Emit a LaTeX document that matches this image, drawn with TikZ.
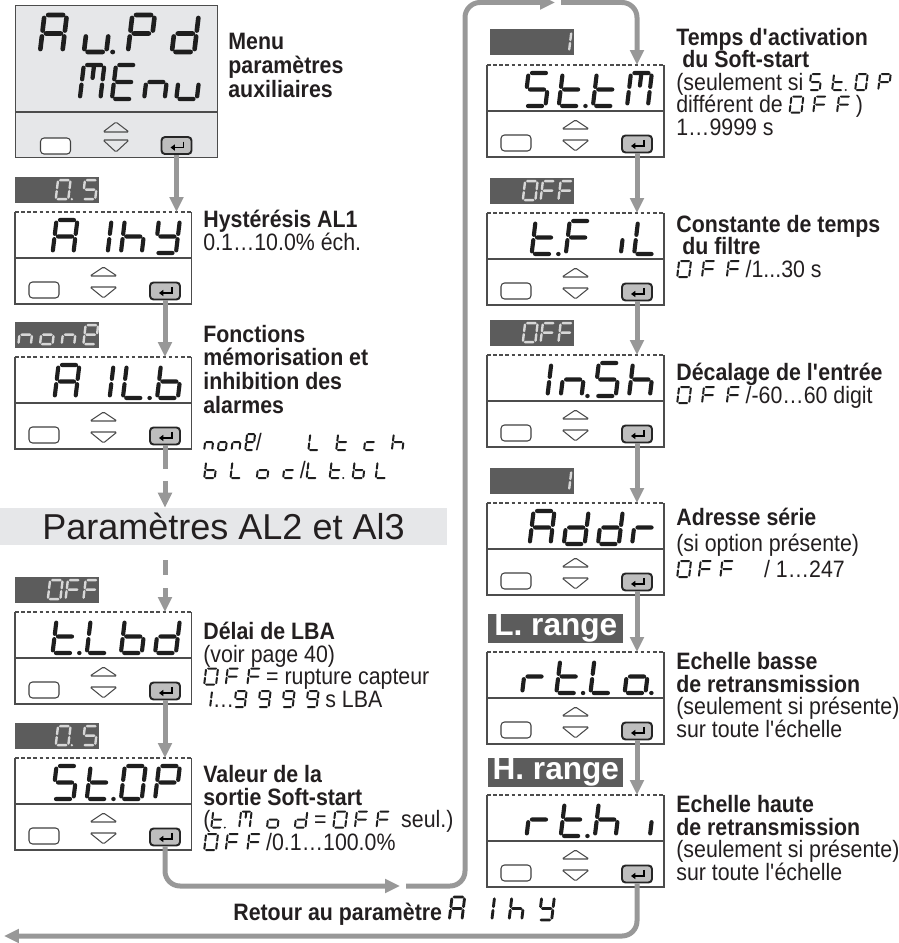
\documentclass[tikz,border=0pt]{standalone}
\usepackage{fontspec}
\setmainfont{Liberation Sans}[FakeStretch=0.9]
\newfontfamily\plainsans{Liberation Sans}
\usetikzlibrary{arrows.meta,calc,positioning}

\definecolor{lcdink}{RGB}{30,30,30}
\definecolor{lcdlight}{RGB}{215,215,215}
\definecolor{menubg}{RGB}{230,231,233}
\definecolor{flowgray}{RGB}{152,152,152}
\definecolor{valgray}{RGB}{92,92,92}
\definecolor{keygray}{RGB}{190,190,190}
\definecolor{textink}{RGB}{35,31,32}

% seven segment glyphs, one unit = glyph height
\newcommand\lcdxs{1}
\newcommand\lcdpitch{1.1}
\tikzset{
  lcd xs/.code={\renewcommand\lcdxs{#1}},
  lcd pitch/.code={\renewcommand\lcdpitch{#1}},
  lcdseg/.style={line cap=round, draw=lcdink},
  lcd light/.style={lcdseg/.style={line cap=round, draw=lcdlight}},
  seg a/.style={insert path={(0.09,1)--(0.46,1)}},
  seg b/.style={insert path={(0.55,0.92)--(0.55,0.58)}},
  seg c/.style={insert path={(0.55,0.42)--(0.55,0.08)}},
  seg d/.style={insert path={(0.09,0)--(0.46,0)}},
  seg e/.style={insert path={(0,0.08)--(0,0.42)}},
  seg f/.style={insert path={(0,0.58)--(0,0.92)}},
  seg g/.style={insert path={(0.09,0.5)--(0.46,0.5)}},
  seg m/.style={insert path={(0.275,0.92)--(0.275,0.62)}},
  seg p/.style={insert path={(0.7,0)--(0.71,0)}},
  glyph A/.style={seg a,seg b,seg c,seg e,seg f,seg g},
  glyph u/.style={seg c,seg d,seg e},
  glyph u*/.style={glyph u,seg p},
  glyph P/.style={seg a,seg b,seg e,seg f,seg g},
  glyph d/.style={seg b,seg c,seg d,seg e,seg g},
  glyph M/.style={seg a,seg b,seg c,seg e,seg f,seg m},
  glyph E/.style={seg a,seg d,seg e,seg f,seg g},
  glyph n/.style={seg c,seg e,seg g},
  glyph n*/.style={glyph n,seg p},
  glyph 1/.style={seg b,seg c},
  glyph h/.style={seg c,seg e,seg f,seg g},
  glyph y/.style={seg b,seg c,seg d,seg f,seg g},
  glyph L/.style={seg d,seg e,seg f},
  glyph L*/.style={glyph L,seg p},
  glyph b/.style={seg c,seg d,seg e,seg f,seg g},
  glyph t/.style={seg d,seg e,seg f,seg g},
  glyph t*/.style={glyph t,seg p},
  glyph S/.style={seg a,seg c,seg d,seg f,seg g},
  glyph 5/.style={glyph S},
  glyph O/.style={seg a,seg b,seg c,seg d,seg e,seg f},
  glyph 0*/.style={glyph O,seg p},
  glyph F/.style={seg a,seg e,seg f,seg g},
  glyph i/.style={seg c},
  glyph r/.style={seg e,seg g},
  glyph o/.style={seg c,seg d,seg e,seg g},
  glyph o*/.style={glyph o,seg p},
  glyph c/.style={seg d,seg e,seg g},
  glyph e/.style={seg a,seg b,seg d,seg e,seg f,seg g},
  glyph 9/.style={seg a,seg b,seg c,seg d,seg f,seg g},
}
\newcommand\lcd[3][]{\tikz[baseline=0pt,#1,x={(\lcdxs*#2*0.02cm,0pt)},y={(#2*0.0024cm,#2*0.02cm)}]{%
  \foreach \g [count=\i from 0] in {#3}{%
    \edef\lcdcmd{\noexpand\draw[lcdseg,line width=#2*0.0025cm,shift={(\i*\lcdpitch,0)},glyph \g];}\lcdcmd}}}
\newcommand\lcdin[2][]{\lcd[lcd xs=1.35,lcd pitch=1.0,#1]{16}{#2}}

% one parameter panel: name, x, y (top left), glyphs
\newcommand\dispanel[4]{%
  \node[panel] (#1) at (#2,#3) {};
  \draw[paneledge] (#1.north west) -- (#1.south west) -- (#1.south east) -- (#1.north east);
  \draw[paneledge, dash pattern=on 2pt off 1.5pt] (#1.north west) -- (#1.north east);
  \draw[paneledge] (#1.west) -- (#1.east);
  \node[anchor=base east, inner sep=0pt] (#1-lcd) at ($(#1.north east)+(-10,41)$) {\lcd[lcd xs=1.15,lcd pitch=0.9]{33}{#4}};
  \node[softkey] (#1-esc) at ($(#1.south west)+(29,-14)$) {};
  \draw[paneledge, rounded corners=0.8pt] ($(#1.south west)+(75,-28)$) -- ++(13.5,-9) -- ++(13.5,9) -- cycle
    ($(#1.south west)+(75,-17)$) -- ++(27,0) -- ++(-13.5,11) -- cycle;
  \node[enterkey] (#1-key) at ($(#1.south west)+(150,-13)$) {};
  \draw[line width=0.9pt, -{Triangle[length=2.5pt,width=3.5pt]}] ($(#1-key)+(7,-4)$) -- ++(0,6) -- ++(-13,0);
}

\begin{document}
\begin{tikzpicture}[x=0.02cm, y=-0.02cm,
  panel/.style={anchor=north west, minimum width=3.54cm, minimum height=1.84cm, inner sep=0pt, outer sep=0pt, fill=white},
  paneledge/.style={draw=black!70, line width=0.6pt},
  softkey/.style={draw=black!75, fill=white, rounded corners=2pt, minimum width=0.6cm, minimum height=0.32cm, inner sep=0pt, line width=0.6pt},
  enterkey/.style={draw=black!85, fill=keygray, rounded corners=2pt, minimum width=0.6cm, minimum height=0.34cm, inner sep=0pt, line width=1.1pt},
  valbox/.style={anchor=south west, fill=valgray, minimum height=0.52cm, text width=1.6cm, inner xsep=0.04cm, inner ysep=0pt},
  rangebox/.style={anchor=south west, fill=valgray, text=white, minimum width=2.7cm, minimum height=0.55cm, inner sep=0pt,
    font=\plainsans\bfseries\fontsize{18}{18}\selectfont},
  flow/.style={draw=flowgray, line width=0.1cm, -{Triangle[width=0.27cm,length=0.3cm]}},
  lbl/.style={anchor=base west, align=left, inner sep=0pt, text=textink, font=\fontsize{13.5}{12.8}\selectfont},
  bar/.style={fill=menubg, minimum width=8.94cm, minimum height=0.74cm, inner sep=0pt, text=textink,
    font=\plainsans\fontsize{20.5}{20.5}\selectfont}]
\useasboundingbox (0,0) rectangle (899,943);

% menu display
\node[anchor=north west, draw=black!70, line width=0.6pt, fill=menubg, minimum width=4.04cm, minimum height=3.04cm, inner sep=0pt] (menu) at (15,5) {};
\draw[paneledge] ($(menu.north west)+(0,107)$) -- ($(menu.north east)+(0,107)$);
\node[anchor=base east, inner sep=0pt] (menu-lcd1) at ($(menu.north east)+(-17,47)$) {\lcd[lcd xs=1.1,lcd pitch=1.08]{37}{A,u*,P,d}};
\node[anchor=base east, inner sep=0pt] (menu-lcd2) at ($(menu.north east)+(-17,94)$) {\lcd[lcd xs=1.1,lcd pitch=0.86]{34}{M,E,n,u}};
\node[softkey] (menu-esc) at ($(menu.south west)+(40.5,-12)$) {};
\draw[paneledge, rounded corners=0.8pt] ($(menu.south west)+(88,-26)$) -- ++(13,-10) -- ++(13,10) -- cycle
  ($(menu.south west)+(88,-18)$) -- ++(26,0) -- ++(-13,12) -- cycle;
\node[enterkey] (menu-key) at ($(menu.south west)+(161.5,-12.5)$) {};
\draw[line width=0.9pt, -{Triangle[length=2.5pt,width=3.5pt]}] ($(menu-key)+(7,-4)$) -- ++(0,6) -- ++(-13,0);

% left column
\dispanel{p-aihy}{15}{212}{A,1,h,y}
\dispanel{p-ailb}{15}{357}{A,1,L*,b}
\dispanel{p-tlbd}{15}{612}{t*,L,b,d}
\dispanel{p-stop}{15}{758}{S,t*,O,P}
\node[valbox, align=right] (p-aihy-val) at ($(p-aihy.north west)+(0,-9)$) {\lcd[lcd light,lcd xs=1.2,lcd pitch=1.18]{19}{0*,5}};
\node[valbox, align=left] (p-ailb-val) at ($(p-ailb.north west)+(0,-9)$) {\lcd[lcd light,lcd xs=1.2,lcd pitch=0.95]{19}{n,o,n,e}};
\node[valbox, align=right] (p-tlbd-val) at ($(p-tlbd.north west)+(0,-9)$) {\lcd[lcd light,lcd xs=1.2,lcd pitch=0.78]{19}{O,F,F}};
\node[valbox, align=right] (p-stop-val) at ($(p-stop.north west)+(0,-9)$) {\lcd[lcd light,lcd xs=1.2,lcd pitch=1.18]{19}{0*,5}};

\node[bar] (bar) at (223.5,526.5) {Paramètres AL2 et Al3\hspace{0.44cm}};

% right column
\dispanel{p-sttm}{487}{65}{S,t*,t,M}
\dispanel{p-tfil}{487}{213}{t*,F,i,L}
\dispanel{p-insh}{487}{355}{1,n*,S,h}
\dispanel{p-addr}{487}{503}{A,d,d,r}
\dispanel{p-rtlo}{487}{652}{r,t*,L,o*}
\dispanel{p-rthi}{487}{795}{r,t*,h,i}
\node[valbox, align=right] (p-sttm-val) at ($(p-sttm.north west)+(3,-10)$) {\lcd[lcd light,lcd xs=1.2]{19}{1}};
\node[valbox, align=right] (p-tfil-val) at ($(p-tfil.north west)+(3,-9)$) {\lcd[lcd light,lcd xs=1.2,lcd pitch=0.78]{19}{O,F,F}};
\node[valbox, align=right] (p-insh-val) at ($(p-insh.north west)+(3,-9)$) {\lcd[lcd light,lcd xs=1.2,lcd pitch=0.78]{19}{O,F,F}};
\node[valbox, align=right] (p-addr-val) at ($(p-addr.north west)+(3,-9)$) {\lcd[lcd light,lcd xs=1.2]{19}{1}};
\node[rangebox] (p-rtlo-val) at ($(p-rtlo.north west)+(1,-9)$) {L. range};
\node[rangebox] (p-rthi-val) at ($(p-rthi.north west)+(1,-8)$) {H. range};

% connectors
\draw[flow] (menu-key.south) -- (menu-key.south |- p-aihy.north);
\draw[flow] (p-aihy-key.south) -- (p-aihy-key.south |- p-ailb.north);
\draw[flow, dash pattern=on 0.47cm off 0.24cm] (p-ailb-key.south) -- (p-ailb-key.south |- bar.north);
\draw[flow, shorten <=0.3cm, dash pattern=on 0.3cm off 0.26cm] (p-ailb-key.south |- bar.south) -- (p-ailb-key.south |- p-tlbd.north);
\draw[flow] (p-tlbd-key.south) -- (p-tlbd-key.south |- p-stop.north);
\coordinate (gapA) at (400,886);
\coordinate (riser) at (465,2.5);
\coordinate (gapB) at (555,2.5);
\draw[flow, rounded corners=0.3cm] (p-stop-key.south) |- (gapA);
\draw[flow, rounded corners=0.3cm] ($(gapA)+(6,0)$) -| (riser) -- (gapB);
\draw[flow, rounded corners=0.3cm] ($(gapB)+(6,0)$) -| (p-sttm-key.south |- p-sttm.north);
\draw[flow] (p-sttm-key.south) -- (p-sttm-key.south |- p-tfil.north);
\draw[flow] (p-tfil-key.south) -- (p-tfil-key.south |- p-insh.north);
\draw[flow] (p-insh-key.south) -- (p-insh-key.south |- p-addr.north);
\draw[flow] (p-addr-key.south) -- (p-addr-key.south |- p-rtlo.north);
\draw[flow] (p-rtlo-key.south) -- (p-rtlo-key.south |- p-rthi.north);
\coordinate (back) at (4,936);
\draw[flow, rounded corners=0.3cm] (p-rthi-key.south) |- (back);

% texts (anchored at the baseline of their last line)
\node[lbl, font=\fontsize{13.5}{13.4}\selectfont] (t-menu) at (228,97) {\textbf{Menu}\\\textbf{paramètres}\\\textbf{auxiliaires}};
\node[lbl] (t-aihy) at (203,250) {\textbf{Hystérésis AL1}\\0.1…10.0\% éch.};
\node[lbl, font=\fontsize{13.5}{13.4}\selectfont] (t-ailb) at (203,413) {\textbf{Fonctions}\\\textbf{mémorisation et}\\\textbf{inhibition des}\\\textbf{alarmes}};
\node[lbl] (t-ailb2) at (203,450) {\lcdin[lcd xs=0.9,lcd pitch=0.95]{n,o,n,e}/\hspace{26pt}\lcdin[lcd xs=1.2,lcd pitch=1.45]{L,t,c,h}};
\node[lbl] (t-ailb3) at (203,478) {\lcdin[lcd xs=1.2,lcd pitch=1.37]{b,L,o,c} /\lcdin[lcd xs=1.2,lcd pitch=1.2]{L,t*,b,L}};
\node[lbl] (t-tlbd) at (203,707) {\textbf{Délai de LBA}\\(voir page 40)\\\lcdin{O,F,F} = rupture capteur\\\ \lcdin{1}…\lcdin[lcd xs=1.2,lcd pitch=1.25]{9,9,9,9} s LBA};
\node[lbl] (t-stop) at (203,850) {\textbf{Valeur de la}\\\textbf{sortie Soft-start}\\(\lcdin[lcd xs=1.2,lcd pitch=1.45]{t*,M,o,d} = \lcdin{O,F,F}\ \ seul.)\\\lcdin{O,F,F} /0.1…100.0\%};
\node[lbl] (t-sttm) at (676,135) {\textbf{Temps d\textquotesingle activation}\\\textbf{\ du Soft-start}\\(seulement si \lcdin[lcd xs=1.2,lcd pitch=1.2]{S,t*,O,P}\\différent de \lcdin[lcd pitch=1.1]{O,F,F} )\\1…9999 s};
\node[lbl] (t-tfil) at (676,277) {\textbf{Constante de temps}\\\textbf{\ du filtre}\\\lcdin[lcd pitch=1.15]{O,F,F} /1...30 s};
\node[lbl] (t-insh) at (676,403) {\textbf{Décalage de l\textquotesingle entrée}\\\lcdin[lcd pitch=1.15]{O,F,F} /-60…60 digit};
\node[lbl, font=\fontsize{13.5}{14.8}\selectfont] (t-addr) at (676,577) {\textbf{Adresse série}\\(si option présente)\\\lcdin{O,F,F}\hspace{1.3em}/ 1…247};
\node[lbl] (t-rtlo) at (676,737) {\textbf{Echelle basse}\\\textbf{de retransmission}\\(seulement si présente)\\sur toute l\textquotesingle échelle};
\node[lbl] (t-rthi) at (676,880) {\textbf{Echelle haute}\\\textbf{de retransmission}\\(seulement si présente)\\sur toute l\textquotesingle échelle};
\node[lbl] (t-back) at (233,920) {\textbf{Retour au paramètre} \lcd[lcd pitch=1.3]{23}{A,1,h,y}};
\end{tikzpicture}
\end{document}
